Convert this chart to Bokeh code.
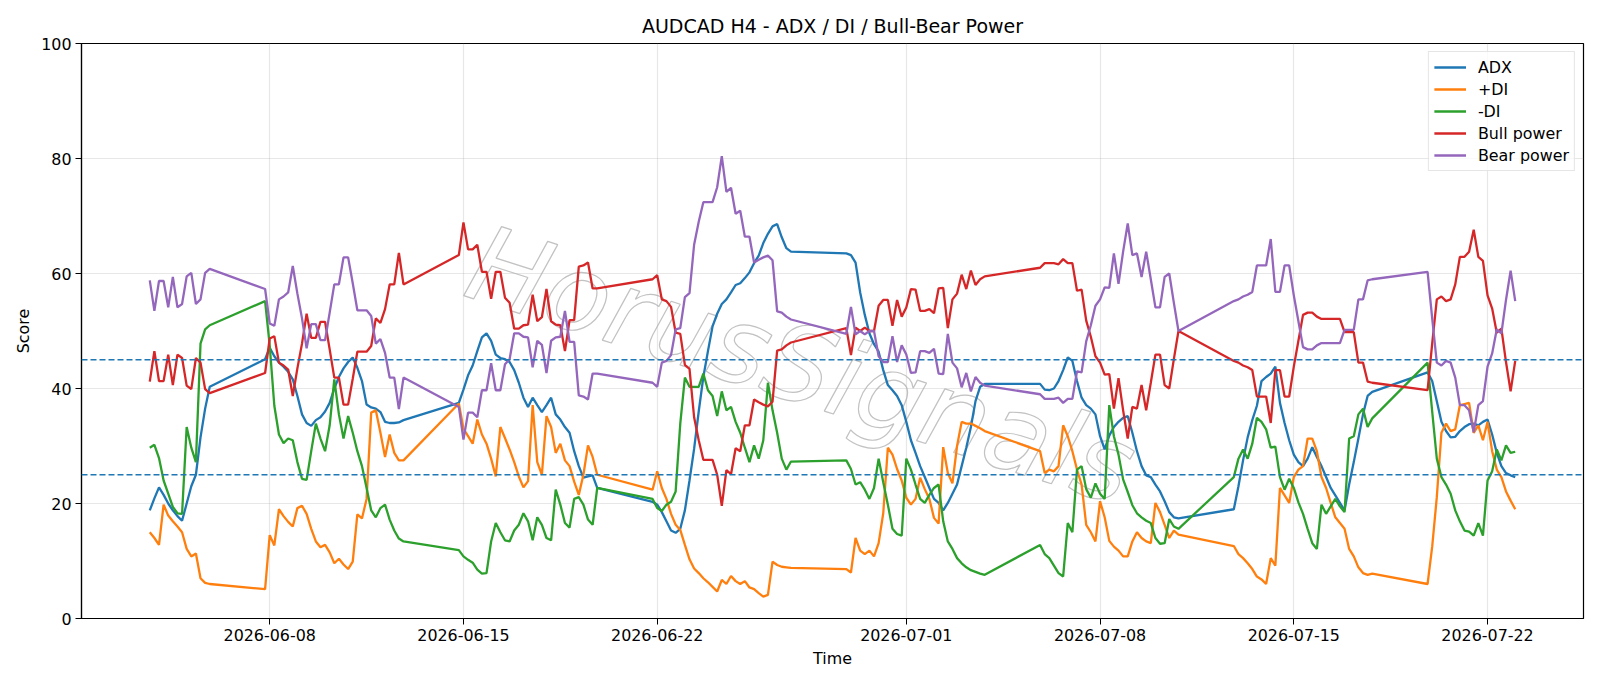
import pandas as pd
from bokeh.plotting import figure
from bokeh.models import (ColumnDataSource, Span, Range1d, FixedTicker,
                          DatetimeTickFormatter, Label)
from bokeh.embed import file_html
from bokeh.resources import INLINE

# H4 trading sessions (Sunday evening open to Friday close)
sessions = [
    ("2026-06-03 16:00", "2026-06-05 20:00"),
    ("2026-06-07 20:00", "2026-06-12 20:00"),
    ("2026-06-14 20:00", "2026-06-19 20:00"),
    ("2026-06-21 20:00", "2026-06-26 20:00"),
    ("2026-06-28 20:00", "2026-07-03 20:00"),
    ("2026-07-05 20:00", "2026-07-10 20:00"),
    ("2026-07-12 20:00", "2026-07-17 20:00"),
    ("2026-07-19 20:00", "2026-07-23 00:00"),
]

adx = [
    18.8, 20.9, 22.8, 21.5, 20.0, 18.8, 17.8, 17.0, 20.0, 23.0, 25.0, 31.5, 36.5, 40.3,
    45.1, 47.1, 45.6, 44.5, 43.8, 42.9, 41.6, 38.7, 35.5, 34.0, 33.5, 34.5, 35.0, 36.0, 37.5, 40.0,
    42.0, 43.5, 44.6, 45.4, 43.6, 41.3, 37.2, 36.7, 36.5, 35.9, 34.2, 34.0, 34.0, 34.1, 34.5,
    37.5, 39.8, 42.3, 44.0, 46.5, 48.9, 49.6, 48.3, 45.9, 45.3, 45.1, 44.6, 43.2, 41.0, 38.4,
    36.8, 38.4, 37.1, 35.9, 37.1, 38.4, 35.5, 34.6, 33.3, 32.3, 29.1, 26.5, 24.5, 24.7, 24.9, 22.7,
    20.3, 19.8, 18.5, 16.9, 15.3, 14.9, 15.6, 18.8, 24.0, 29.5, 36.0, 42.0, 46.5, 50.8, 53.0,
    54.7, 55.5, 56.7, 58.0, 58.3, 59.2, 60.2, 61.8, 63.1, 65.3, 66.9, 68.2, 68.6, 66.3, 64.4, 63.8,
    63.5, 63.2, 61.9, 56.7, 52.8, 49.6, 47.7, 46.4, 43.2, 40.6, 39.7, 38.7, 37.1, 34.2, 31.0,
    28.8, 26.5, 24.6, 22.7, 20.8, 20.1, 18.8, 20.1, 21.7, 23.3, 26.5, 29.7, 33.3, 37.8, 40.3, 40.8,
    40.8, 39.8, 39.7, 40.0, 41.3, 43.2, 45.4, 44.8, 41.3, 38.4, 37.1, 36.5, 35.5, 31.7, 29.4,
    31.8, 33.3, 34.2, 34.9, 35.2, 32.3, 29.1, 26.5, 24.9, 24.6, 23.3, 22.1, 20.4, 18.5, 17.6, 17.4,
    19.0, 23.0, 27.5, 31.5, 34.5, 37.0, 41.3, 42.0, 42.6, 43.8, 37.5, 34.0, 31.0, 28.5, 27.2,
    26.5, 27.8, 29.8, 28.1, 26.5, 24.6, 22.7, 21.4, 20.1, 18.8, 23.3, 27.2, 31.3, 35.5, 38.7, 39.4,
    42.8, 41.3, 37.8, 34.2, 32.6, 31.5, 31.6, 32.6, 33.3, 33.8, 33.9, 33.6, 34.2, 34.6, 32.0,
    28.8, 26.5, 25.3, 24.9, 24.6,
]

plus_di = [
    15.0, 14.0, 12.8, 19.8, 17.9, 16.9, 16.0, 15.0, 12.1, 10.8, 11.3, 7.0, 6.2, 6.0,
    5.1, 14.5, 12.7, 19.0, 17.8, 16.8, 16.0, 19.2, 19.6, 18.2, 15.6, 13.4, 12.4, 12.8, 11.5, 9.6,
    10.4, 9.4, 8.6, 9.9, 18.1, 17.4, 20.8, 35.8, 36.2, 32.3, 28.1, 32.0, 28.8, 27.5, 27.5,
    37.4, 33.0, 31.7, 30.4, 34.6, 32.0, 30.4, 27.8, 24.7, 33.3, 31.4, 29.4, 27.2, 24.7, 22.8,
    23.9, 37.1, 27.2, 25.0, 35.2, 33.3, 28.8, 30.4, 27.5, 26.5, 23.8, 21.5, 25.0, 30.1, 28.1, 25.0,
    22.4, 25.6, 22.7, 20.8, 18.2, 16.3, 15.4, 12.8, 10.3, 8.7, 7.9, 7.0, 6.3, 5.5, 4.7,
    6.7, 6.0, 7.4, 6.5, 6.0, 6.5, 5.4, 5.1, 4.4, 3.8, 4.1, 9.9, 9.3, 9.0, 8.9, 8.8,
    8.6, 8.0, 14.0, 11.8, 11.2, 11.8, 10.8, 13.1, 18.3, 29.7, 28.5, 26.0, 24.0, 21.0, 19.8,
    20.8, 24.5, 22.5, 20.8, 17.5, 16.5, 29.8, 25.3, 23.5, 30.0, 34.2, 33.9, 33.9, 33.5, 33.1, 32.6,
    29.1, 25.3, 25.9, 25.6, 26.5, 33.6, 31.7, 29.1, 25.9, 23.3, 16.3, 15.0, 13.4, 20.4, 17.6,
    13.5, 12.5, 11.8, 10.8, 10.8, 13.4, 15.0, 14.0, 13.4, 13.1, 20.1, 18.5, 16.3, 14.0, 15.3, 14.6,
    12.6, 11.2, 10.5, 9.6, 8.6, 7.3, 6.8, 6.0, 10.5, 9.2, 22.7, 21.4, 20.1, 24.6, 25.9,
    26.5, 31.3, 31.3, 29.1, 24.6, 22.7, 20.1, 17.6, 16.6, 15.6, 12.1, 10.8, 8.9, 7.9, 7.6, 7.8,
    6.0, 12.5, 21.1, 32.3, 33.9, 32.6, 32.9, 37.1, 37.3, 37.5, 32.3, 33.6, 31.0, 34.2, 29.1,
    25.9, 24.6, 22.1, 20.5, 19.0,
]

minus_di = [
    29.7, 30.2, 27.9, 24.0, 21.7, 19.4, 18.3, 18.2, 33.3, 29.7, 27.2, 47.8, 50.3, 51.0,
    55.2, 47.5, 37.0, 32.0, 30.5, 31.3, 31.0, 27.2, 24.3, 24.1, 29.1, 33.9, 31.3, 29.1, 33.6, 41.6,
    35.5, 31.3, 35.2, 32.3, 29.1, 26.5, 22.7, 18.8, 17.6, 19.2, 19.8, 17.2, 15.3, 13.9, 13.4,
    11.9, 10.8, 10.2, 9.7, 8.5, 7.8, 7.9, 13.4, 16.6, 15.0, 13.6, 13.4, 15.3, 16.3, 18.3,
    16.9, 13.6, 17.6, 16.3, 14.0, 13.6, 22.4, 19.8, 16.6, 15.8, 20.8, 21.1, 19.8, 17.2, 16.3, 22.7,
    20.8, 19.2, 18.7, 19.8, 20.3, 22.1, 33.9, 41.9, 40.3, 40.3, 40.3, 42.6, 39.7, 38.7, 35.2,
    39.5, 36.2, 36.8, 34.2, 32.3, 29.7, 27.2, 30.1, 27.8, 31.0, 41.0, 36.2, 32.3, 27.8, 25.9, 27.3,
    27.5, 26.0, 23.3, 23.7, 22.4, 20.8, 22.7, 27.8, 23.7, 19.8, 15.6, 14.7, 14.4, 27.8, 25.9,
    23.3, 20.8, 20.1, 21.5, 22.7, 23.3, 16.9, 13.4, 12.1, 10.5, 9.6, 8.9, 8.4, 8.1, 7.8, 7.6,
    12.8, 11.2, 10.5, 9.2, 7.9, 7.3, 16.6, 15.0, 25.9, 26.5, 22.5, 21.0, 23.5, 21.7, 20.8,
    37.1, 31.7, 28.5, 24.2, 22.0, 19.7, 18.3, 17.6, 17.0, 16.6, 14.0, 13.0, 13.1, 17.3, 16.0, 15.6,
    24.6, 27.8, 29.4, 27.8, 30.4, 34.9, 34.2, 32.9, 29.7, 29.9, 24.6, 22.4, 24.3, 22.7, 20.2,
    18.2, 15.6, 13.1, 12.1, 19.8, 18.2, 19.5, 20.8, 19.5, 18.5, 31.3, 31.7, 35.5, 36.5, 33.3, 34.8,
    44.5, 36.0, 27.8, 24.6, 23.3, 21.7, 18.8, 16.9, 15.3, 15.1, 14.4, 16.6, 14.4, 24.0, 25.6,
    29.4, 27.5, 30.1, 28.8, 29.0,
]

bull_power = [
    41.2, 46.5, 41.3, 41.3, 45.9, 40.6, 45.9, 45.3, 40.5, 39.9, 45.3, 44.5, 39.9, 39.2,
    42.7, 48.7, 49.1, 44.5, 44.0, 43.3, 38.7, 43.5, 47.8, 53.0, 48.8, 48.8, 51.6, 51.6, 46.8, 41.9,
    41.9, 37.2, 37.2, 41.7, 46.4, 46.4, 46.4, 47.4, 52.2, 51.4, 53.8, 58.1, 58.1, 63.6, 58.1,
    63.2, 68.9, 64.2, 64.2, 65.0, 60.3, 60.3, 55.6, 60.3, 60.3, 55.8, 54.9, 50.4, 50.4, 51.0,
    51.1, 56.3, 51.7, 52.4, 57.3, 51.7, 51.1, 51.0, 46.5, 51.9, 51.9, 61.2, 61.4, 61.9, 57.4, 57.4,
    59.0, 59.7, 55.5, 55.2, 54.2, 49.7, 49.5, 44.1, 43.4, 35.0, 31.0, 27.6, 27.6, 27.6, 25.0,
    19.6, 25.8, 25.1, 29.6, 29.1, 33.6, 33.6, 38.1, 37.6, 37.2, 36.9, 37.7, 46.6, 46.8, 47.5, 48.0,
    50.5, 45.8, 50.6, 50.0, 50.6, 50.0, 50.0, 54.4, 55.4, 55.4, 50.9, 55.4, 52.5, 54.1, 57.3,
    57.2, 53.5, 53.5, 53.8, 53.1, 57.4, 57.5, 50.5, 55.5, 56.5, 59.8, 57.3, 60.5, 58.0, 59.0, 59.5,
    61.0, 61.8, 61.8, 61.8, 61.6, 62.5, 61.8, 61.8, 57.0, 57.2, 51.8, 49.0, 45.6, 44.5, 42.4,
    42.5, 36.5, 41.8, 36.2, 31.3, 36.8, 36.5, 40.6, 36.2, 41.0, 45.9, 45.9, 40.6, 40.0, 45.1, 50.0,
    44.8, 44.5, 44.0, 43.7, 43.2, 38.6, 38.6, 38.6, 34.0, 43.2, 43.2, 38.6, 38.6, 43.8, 48.3,
    52.8, 53.2, 53.2, 52.5, 52.1, 52.1, 52.1, 52.1, 52.1, 49.8, 49.8, 49.8, 44.5, 44.5, 41.2, 41.0,
    39.7, 47.8, 55.5, 56.0, 55.2, 55.5, 58.1, 62.9, 62.9, 63.8, 67.6, 62.9, 62.2, 56.2, 53.9,
    49.7, 50.4, 44.6, 39.5, 44.8,
]

bear_power = [
    58.8, 53.5, 58.7, 58.7, 54.1, 59.4, 54.1, 54.7, 59.5, 60.1, 54.7, 55.5, 60.1, 60.8,
    57.3, 51.3, 50.9, 55.5, 56.0, 56.7, 61.3, 56.5, 52.2, 47.0, 51.2, 51.2, 48.4, 48.4, 53.2, 58.1,
    58.1, 62.8, 62.8, 58.3, 53.6, 53.6, 53.6, 52.6, 47.8, 48.6, 46.2, 41.9, 41.9, 36.4, 41.9,
    36.8, 31.1, 35.8, 35.8, 35.0, 39.7, 39.7, 44.4, 39.7, 39.7, 44.2, 45.1, 49.6, 49.6, 49.0,
    48.9, 43.7, 48.3, 47.6, 42.7, 48.3, 48.9, 49.0, 53.5, 48.1, 48.1, 38.8, 38.6, 38.1, 42.6, 42.6,
    41.0, 40.3, 44.5, 44.8, 45.8, 50.3, 50.5, 55.9, 56.6, 65.0, 69.0, 72.4, 72.4, 72.4, 75.0,
    80.4, 74.2, 74.9, 70.4, 70.9, 66.4, 66.4, 61.9, 62.4, 62.8, 63.1, 62.3, 53.4, 53.2, 52.5, 52.0,
    49.5, 54.2, 49.4, 50.0, 49.4, 50.0, 50.0, 45.6, 44.6, 44.6, 49.1, 44.6, 47.5, 45.9, 42.7,
    42.8, 46.5, 46.5, 46.2, 46.9, 42.6, 42.5, 49.5, 44.5, 43.5, 40.2, 42.7, 39.5, 42.0, 41.0, 40.5,
    39.0, 38.2, 38.2, 38.2, 38.4, 37.5, 38.2, 38.2, 43.0, 42.8, 48.2, 51.0, 54.4, 55.5, 57.6,
    57.5, 63.5, 58.2, 63.8, 68.7, 63.2, 63.5, 59.4, 63.8, 59.0, 54.1, 54.1, 59.4, 60.0, 54.9, 50.0,
    55.2, 55.5, 56.0, 56.3, 56.8, 61.4, 61.4, 61.4, 66.0, 56.8, 56.8, 61.4, 61.4, 56.2, 51.7,
    47.2, 46.8, 46.8, 47.5, 47.9, 47.9, 47.9, 47.9, 47.9, 50.2, 50.2, 50.2, 55.5, 55.5, 58.8, 59.0,
    60.3, 52.2, 44.5, 44.0, 44.8, 44.5, 41.9, 37.1, 37.1, 36.2, 32.4, 37.1, 37.8, 43.8, 46.1,
    50.3, 49.6, 55.4, 60.5, 55.2,
]

tick_dates = ["2026-06-08", "2026-06-15", "2026-06-22", "2026-07-01",
              "2026-07-08", "2026-07-15", "2026-07-22"]
y_ticks = [0, 20, 40, 60, 80, 100]

FONT = "DejaVu Sans"

times = pd.concat([pd.Series(pd.date_range(a, b, freq="4h")) for a, b in sessions],
                  ignore_index=True)
assert len(times) == len(adx) == len(plus_di) == len(minus_di) == len(bull_power) == len(bear_power)

src = ColumnDataSource(dict(time=times, adx=adx, plus_di=plus_di, minus_di=minus_di,
                            bull=bull_power, bear=bear_power))


def ms(ts):
    return pd.Timestamp(ts).value / 1e6


t0, t1 = ms(times.iloc[0]), ms(times.iloc[-1])
pad = 0.05 * (t1 - t0)

p = figure(width=1600, height=686, x_axis_type="datetime",
           x_range=Range1d(t0 - pad, t1 + pad), y_range=Range1d(0, 100),
           output_backend="svg", toolbar_location=None,
           min_border_left=81, min_border_right=17, min_border_top=43, min_border_bottom=68)

p.title.text = "AUDCAD H4 - ADX / DI / Bull-Bear Power"
p.title.text_font = FONT
p.title.text_font_size = "19px"
p.title.text_font_style = "normal"
p.title.text_color = "black"
p.title.align = "center"
p.title.standoff = 13

# watermark: hollow grey lettering under the grid and the series
p.add_layout(Label(x=ms("2026-06-27 05:00"), y=44.0, text="HorusSignals",
                   angle=-0.31, text_align="center", text_baseline="middle",
                   text_font=FONT, text_font_size="106px", text_font_style="italic",
                   text_color="#ffffff", text_alpha=1.0,
                   text_outline_color="#c2c2c2", level="image"))

series = [
    ("adx", "ADX", "#1f77b4"),
    ("plus_di", "+DI", "#ff7f0e"),
    ("minus_di", "-DI", "#2ca02c"),
    ("bull", "Bull power", "#d62728"),
    ("bear", "Bear power", "#9467bd"),
]
for col, name, color in series:
    p.line("time", col, source=src, line_color=color, line_width=2.3, legend_label=name)

for level in (45, 25):
    p.add_layout(Span(location=level, dimension="width", line_color="#1f77b4",
                      line_dash="6 3", line_width=1.5))

xt = FixedTicker(ticks=[ms(d) for d in tick_dates])
p.xaxis.ticker = xt
p.xgrid.ticker = xt
fmt = "%Y-%m-%d"
p.xaxis.formatter = DatetimeTickFormatter(
    microseconds=fmt, milliseconds=fmt, seconds=fmt, minsec=fmt, minutes=fmt,
    hourmin=fmt, hours=fmt, days=fmt, months=fmt, years=fmt)
yt = FixedTicker(ticks=y_ticks)
p.yaxis.ticker = yt
p.ygrid.ticker = yt

p.xaxis.axis_label = "Time"
p.yaxis.axis_label = "Score"
for ax in (p.xaxis, p.yaxis):
    ax.axis_label_text_font = FONT
    ax.axis_label_text_font_size = "15.9px"
    ax.axis_label_text_font_style = "normal"
    ax.axis_label_text_color = "black"
    ax.major_label_text_font = FONT
    ax.major_label_text_font_size = "15.9px"
    ax.major_label_text_color = "black"
    ax.major_tick_out = 6
    ax.major_tick_in = 0
    ax.minor_tick_out = 0
    ax.minor_tick_in = 0
    ax.major_tick_line_color = "black"
    ax.axis_line_color = "black"
    ax.axis_line_width = 1.2
    ax.major_label_standoff = 4
    ax.axis_label_standoff = 5

for g in (p.xgrid, p.ygrid):
    g.grid_line_color = "#b0b0b0"
    g.grid_line_alpha = 0.3
    g.grid_line_width = 1.2

p.outline_line_color = "black"
p.outline_line_width = 1.2
p.outline_line_alpha = 1.0
p.background_fill_color = "white"
p.border_fill_color = "white"

lg = p.legend[0]
lg.location = "top_right"
lg.label_text_font = FONT
lg.label_text_font_size = "15.9px"
lg.label_text_color = "black"
lg.glyph_width = 32
lg.glyph_height = 20
lg.label_height = 20
lg.spacing = 2
lg.padding = 5
lg.margin = 8
lg.label_standoff = 12
lg.border_line_color = "#cccccc"
lg.border_line_width = 1.2
lg.background_fill_alpha = 0.8

open("out.html", "w").write(file_html(p, INLINE))
